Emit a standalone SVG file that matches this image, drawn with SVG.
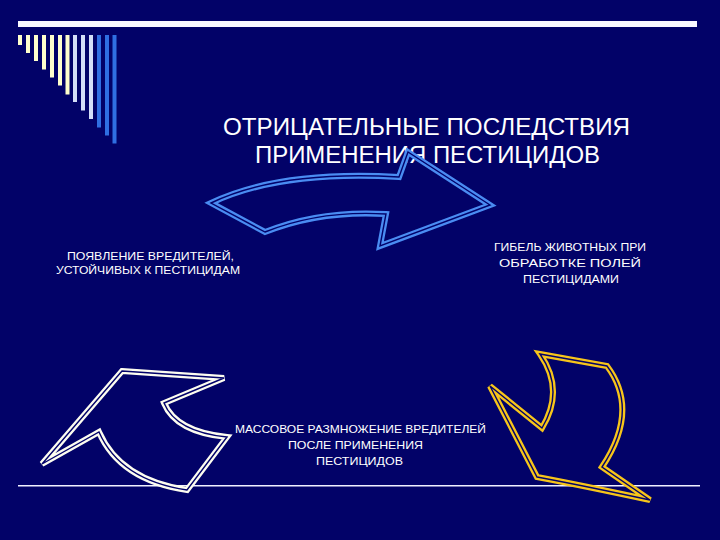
<svg xmlns="http://www.w3.org/2000/svg" width="720" height="540" viewBox="0 0 720 540">
  <style>
    .t { font-family: "Liberation Sans", Arial, sans-serif; fill: #ffffff; text-anchor: middle; }
    .title { font-size: 23.5px; }
    .lbl { font-size: 11px; }
    .y { fill: #ffffcc; }
    .lb { fill: #d4def8; }
    .db { fill: #2f6fe2; }
    .gap { fill: none; stroke: #02026a; stroke-width: 1.4; stroke-linejoin: miter; }
    .blueo { fill: none; stroke: #4a8cf2; stroke-width: 6; stroke-linejoin: miter; }
    .whiteo { fill: none; stroke: #fdfdf0; stroke-width: 6; stroke-linejoin: miter; }
    .goldo { fill: none; stroke: #f7c51a; stroke-width: 6; stroke-linejoin: miter; }
  </style>
  <defs>
    <path id="blueArrow" d="M211,203 Q280,170 399,177 L408,152 L490,205 L380,246 L386,214 Q320,210 265,232 Z"/>
    <path id="whiteArrow" d="M122,371 L224,378 L164,403 Q176,432 227,437 L187,490 Q120,480 99,432 L42,464 Z"/>
    <path id="goldArrow" d="M540,354 L607,366 Q640,410 602,467 L650,500 Q580,485 537,477 L490,386 L542,428 Q565,390 540,354 Z"/>
  </defs>
  <rect width="720" height="540" fill="#020268"/>

  <g id="decor">
    <rect x="18" y="21" width="679" height="6" fill="#f8f8ff"/>
    <rect class="y" x="18" y="35" width="4" height="10"/>
    <rect class="y" x="26" y="35" width="4" height="18"/>
    <rect class="y" x="34" y="35" width="4" height="26"/>
    <rect class="y" x="42" y="35" width="4" height="34.5"/>
    <rect class="y" x="50" y="35" width="4" height="42.5"/>
    <rect class="y" x="58" y="35" width="4" height="50.5"/>
    <rect class="y" x="65.5" y="35" width="4" height="59.5"/>
    <rect class="lb" x="73" y="35" width="4" height="67"/>
    <rect class="lb" x="81" y="35" width="4" height="75.5"/>
    <rect class="lb" x="89" y="35" width="4" height="84"/>
    <rect class="db" x="97" y="35" width="4" height="92.5"/>
    <rect class="db" x="105" y="35" width="4" height="100.5"/>
    <rect class="db" x="112.5" y="35" width="4" height="108.5"/>
    <rect x="18" y="485" width="682" height="1.5" fill="#f0f0ff"/>
  </g>

  <g id="title">
    <text class="t title" x="426.5" y="135" textLength="407" lengthAdjust="spacingAndGlyphs">ОТРИЦАТЕЛЬНЫЕ ПОСЛЕДСТВИЯ</text>
    <text class="t title" x="427.5" y="163" textLength="345" lengthAdjust="spacingAndGlyphs">ПРИМЕНЕНИЯ ПЕСТИЦИДОВ</text>
  </g>

  <g id="node-left">
    <text class="t lbl" x="150.5" y="260" textLength="167" lengthAdjust="spacingAndGlyphs">ПОЯВЛЕНИЕ ВРЕДИТЕЛЕЙ,</text>
    <text class="t lbl" x="148" y="274" textLength="184" lengthAdjust="spacingAndGlyphs">УСТОЙЧИВЫХ  К ПЕСТИЦИДАМ</text>
  </g>

  <g id="node-right">
    <text class="t lbl" x="570" y="251" textLength="152" lengthAdjust="spacingAndGlyphs">ГИБЕЛЬ ЖИВОТНЫХ ПРИ</text>
    <text class="t lbl" x="570" y="267" textLength="142" lengthAdjust="spacingAndGlyphs">ОБРАБОТКЕ ПОЛЕЙ</text>
    <text class="t lbl" x="571" y="283" textLength="96" lengthAdjust="spacingAndGlyphs">ПЕСТИЦИДАМИ</text>
  </g>

  <g id="node-bottom">
    <text class="t lbl" x="360.5" y="433" textLength="251" lengthAdjust="spacingAndGlyphs">МАССОВОЕ РАЗМНОЖЕНИЕ ВРЕДИТЕЛЕЙ</text>
    <text class="t lbl" x="355.5" y="449" textLength="135" lengthAdjust="spacingAndGlyphs">ПОСЛЕ ПРИМЕНЕНИЯ</text>
    <text class="t lbl" x="359.5" y="465" textLength="87" lengthAdjust="spacingAndGlyphs">ПЕСТИЦИДОВ</text>
  </g>

  <g id="connectors">
    <g id="arrow-blue">
      <use href="#blueArrow" class="blueo"/>
      <use href="#blueArrow" class="gap"/>
    </g>
    <g id="arrow-gold">
      <use href="#goldArrow" class="goldo"/>
      <use href="#goldArrow" class="gap"/>
    </g>
    <g id="arrow-white">
      <use href="#whiteArrow" class="whiteo"/>
      <use href="#whiteArrow" class="gap"/>
    </g>
  </g>
</svg>
